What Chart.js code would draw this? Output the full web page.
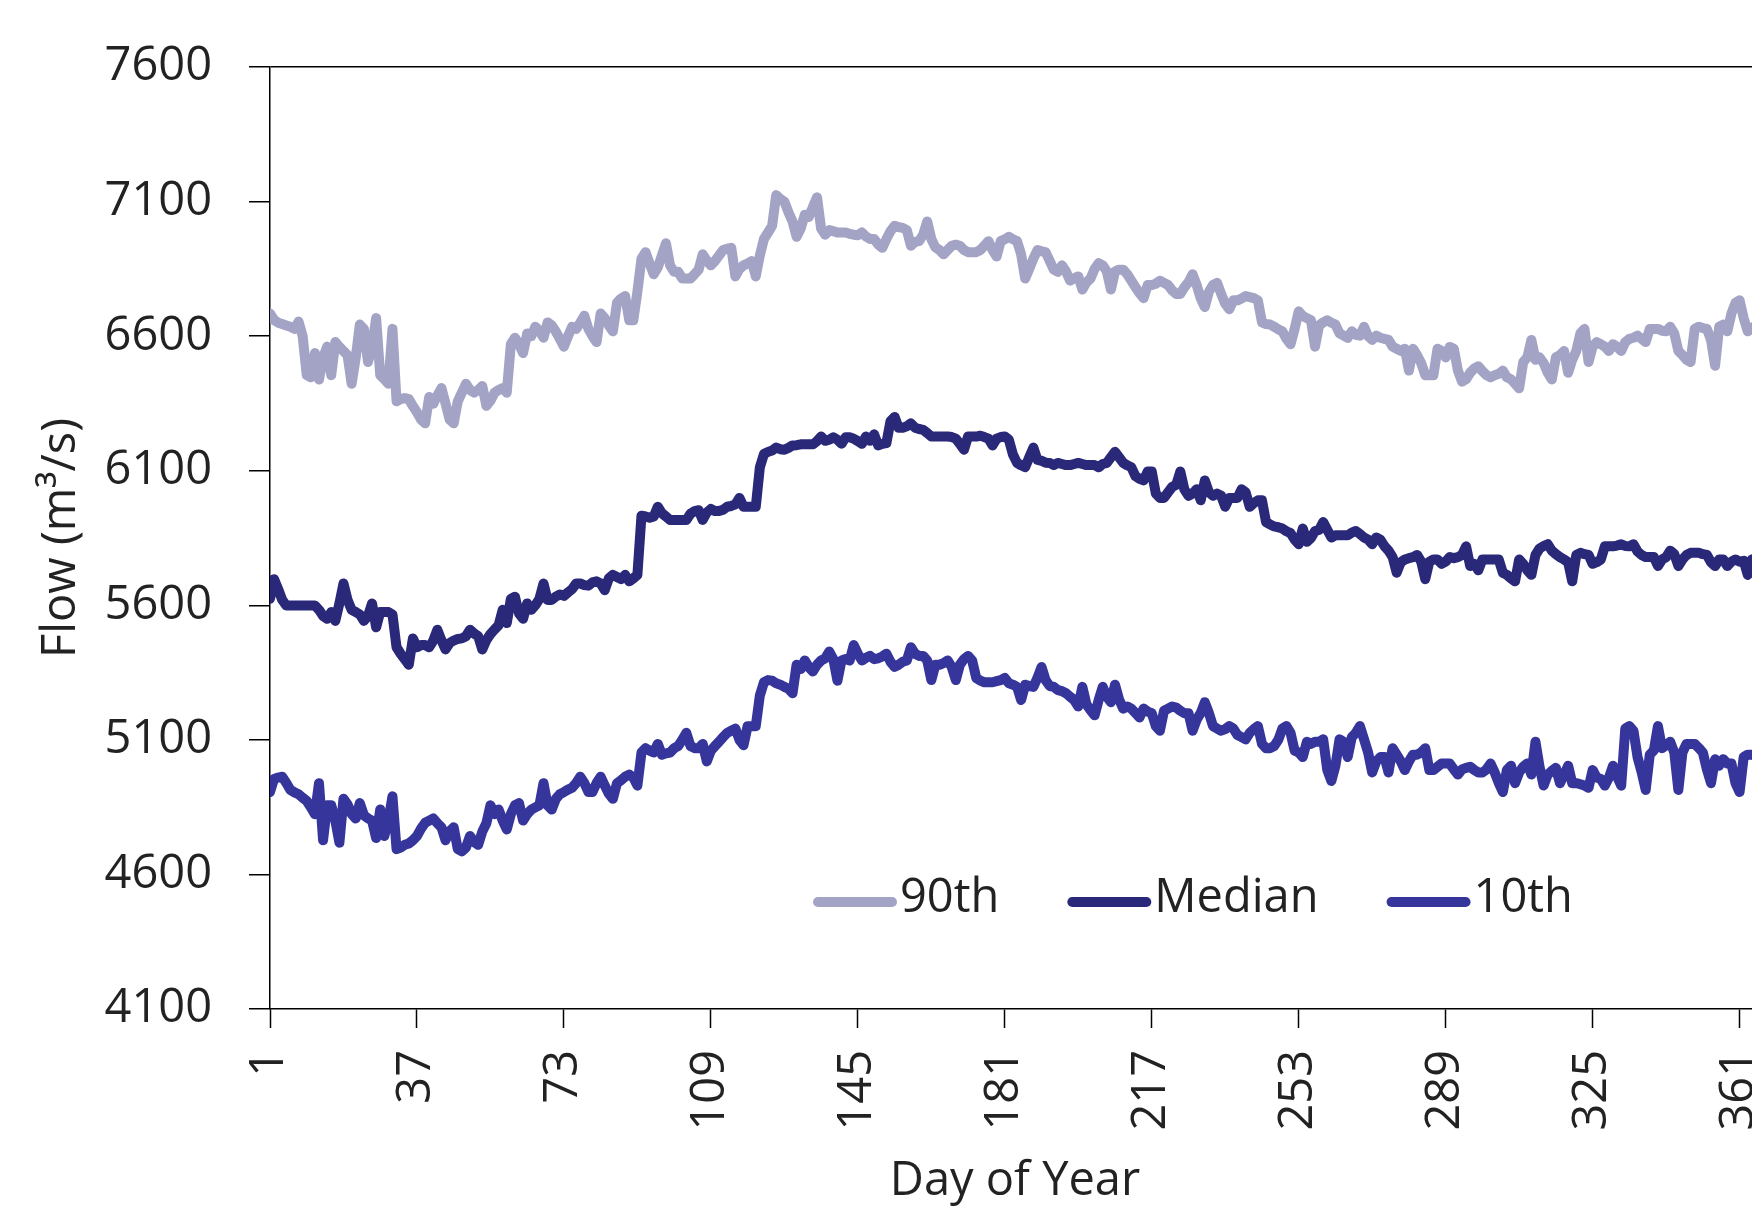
<!DOCTYPE html>
<html>
<head>
<meta charset="utf-8">
<title>Flow by day of year</title>
<script src="https://cdn.jsdelivr.net/npm/chart.js@4.4.1/dist/chart.umd.min.js"></script>
<style>
  html, body { margin: 0; padding: 0; background: #fff; overflow: hidden; }
  canvas { display: block; }
</style>
</head>
<body>
<canvas id="flowChart" width="1800" height="1215"></canvas>
<script>
// tick labels
const dayTicks = [1, 37, 73, 109, 145, 181, 217, 253, 289, 325, 361];
const flowTicks = [4100, 4600, 5100, 5600, 6100, 6600, 7100, 7600];

// daily flow percentiles (m3/s), day 1 .. 365
const flow90th = [
  6684, 6660, 6650, 6645, 6640, 6635, 6627, 6654, 6600, 6455,
  6447, 6537, 6439, 6520, 6561, 6455, 6578, 6560, 6545, 6529,
  6423, 6520, 6643, 6627, 6504, 6560, 6667, 6455, 6440, 6423,
  6627, 6358, 6366, 6370, 6366, 6340, 6317, 6290, 6276, 6374,
  6349, 6380, 6407, 6350, 6290, 6276, 6358, 6390, 6423, 6400,
  6390, 6400, 6415, 6341, 6360, 6390, 6400, 6407, 6390, 6570,
  6594, 6570, 6537, 6610, 6600, 6635, 6620, 6594, 6651, 6640,
  6618, 6590, 6561, 6600, 6635, 6627, 6650, 6676, 6627, 6600,
  6578, 6684, 6667, 6640, 6618, 6724, 6740, 6749, 6659, 6659,
  6765, 6888, 6912, 6870, 6830, 6855, 6900, 6945, 6863, 6839,
  6839, 6814, 6814, 6814, 6830, 6847, 6904, 6880, 6863, 6879,
  6900, 6920, 6925, 6928, 6822, 6850, 6863, 6870, 6879, 6822,
  6900, 6961, 6985, 7010, 7124, 7110, 7100, 7060, 7026, 6969,
  7000, 7051, 7043, 7080, 7116, 7000, 6977, 6994, 6990, 6985,
  6985, 6985, 6980, 6977, 6975, 6985, 6970, 6961, 6961, 6940,
  6928, 6961, 6990, 7010, 7005, 7002, 6994, 6936, 6950, 6953,
  6977, 7026, 6961, 6930, 6920, 6904, 6920, 6936, 6940, 6936,
  6920, 6912, 6912, 6912, 6920, 6936, 6953, 6920, 6896, 6953,
  6960, 6969, 6960, 6953, 6904, 6814, 6850, 6888, 6920, 6915,
  6912, 6880, 6847, 6839, 6863, 6840, 6806, 6815, 6822, 6773,
  6800, 6814, 6850, 6871, 6863, 6840, 6773, 6840, 6847, 6847,
  6830, 6806, 6782, 6760, 6741, 6790, 6790, 6795, 6806, 6798,
  6790, 6770, 6757, 6757, 6782, 6800, 6830, 6790, 6740, 6708,
  6765, 6790, 6798, 6757, 6720, 6700, 6733, 6733, 6740, 6749,
  6745, 6741, 6733, 6651, 6645, 6643, 6635, 6625, 6618, 6590,
  6570, 6627, 6692, 6675, 6667, 6659, 6561, 6640, 6651, 6659,
  6650, 6643, 6610, 6602, 6594, 6618, 6605, 6602, 6635, 6600,
  6586, 6602, 6594, 6590, 6586, 6561, 6553, 6545, 6553, 6472,
  6553, 6529, 6500, 6455, 6455, 6455, 6553, 6545, 6521, 6560,
  6553, 6472, 6431, 6440, 6464, 6480, 6488, 6470, 6455, 6447,
  6455, 6460, 6472, 6447, 6440, 6423, 6406, 6504, 6521, 6586,
  6512, 6521, 6500, 6464, 6439, 6521, 6530, 6545, 6464, 6512,
  6545, 6610, 6627, 6504, 6561, 6578, 6570, 6561, 6545, 6570,
  6560, 6545, 6578, 6590, 6594, 6602, 6590, 6578, 6627, 6627,
  6627, 6620, 6618, 6635, 6610, 6545, 6530, 6512, 6504, 6627,
  6635, 6630, 6627, 6586, 6490, 6635, 6643, 6618, 6684, 6724,
  6733, 6667, 6618, 6630, 6640
];

const flowMedian = [
  5624, 5697, 5660, 5620, 5599, 5599, 5599, 5599, 5599, 5599,
  5599, 5599, 5583, 5560, 5550, 5575, 5542, 5607, 5681, 5620,
  5583, 5575, 5566, 5542, 5560, 5607, 5518, 5575, 5575, 5575,
  5566, 5444, 5420, 5400, 5379, 5477, 5444, 5452, 5452, 5444,
  5469, 5509, 5470, 5436, 5460, 5469, 5475, 5477, 5485, 5509,
  5495, 5485, 5436, 5470, 5493, 5510, 5526, 5583, 5534, 5624,
  5632, 5570, 5550, 5607, 5583, 5600, 5624, 5681, 5620, 5620,
  5632, 5640, 5635, 5648, 5660, 5681, 5681, 5675, 5673, 5685,
  5689, 5681, 5656, 5700, 5713, 5705, 5697, 5713, 5689, 5700,
  5713, 5933, 5930, 5925, 5930, 5966, 5942, 5930, 5917, 5917,
  5917, 5917, 5917, 5940, 5950, 5953, 5917, 5945, 5958, 5950,
  5950, 5955, 5966, 5969, 5975, 5999, 5966, 5966, 5966, 5966,
  6113, 6162, 6170, 6175, 6186, 6180, 6178, 6185, 6194, 6195,
  6198, 6198, 6198, 6198, 6210, 6227, 6211, 6215, 6224, 6215,
  6200, 6224, 6224, 6219, 6210, 6200, 6227, 6211, 6235, 6194,
  6200, 6203, 6284, 6300, 6260, 6260, 6265, 6276, 6260, 6255,
  6252, 6240, 6227, 6227, 6227, 6227, 6227, 6225, 6219, 6200,
  6178, 6227, 6227, 6227, 6230, 6225, 6219, 6194, 6219, 6225,
  6227, 6215, 6160, 6129, 6120, 6113, 6150, 6186, 6140, 6137,
  6130, 6129, 6121, 6129, 6125, 6121, 6121, 6125, 6129, 6125,
  6121, 6121, 6121, 6113, 6125, 6129, 6150, 6170, 6150, 6129,
  6120, 6113, 6080, 6070, 6064, 6097, 6097, 6015, 5999, 5999,
  6020, 6040, 6048, 6097, 6030, 6007, 6015, 6031, 5990, 6064,
  6020, 6007, 6015, 6007, 5966, 5999, 5999, 5999, 6031, 6020,
  5966, 5980, 5990, 5990, 5909, 5900, 5893, 5890, 5885, 5875,
  5868, 5844, 5827, 5885, 5836, 5850, 5876, 5880, 5909, 5880,
  5852, 5860, 5860, 5860, 5860, 5870, 5876, 5865, 5852, 5844,
  5827, 5852, 5844, 5820, 5803, 5779, 5721, 5760, 5770, 5775,
  5779, 5787, 5762, 5697, 5762, 5770, 5770, 5754, 5762, 5779,
  5775, 5779, 5787, 5819, 5746, 5754, 5730, 5770, 5770, 5770,
  5770, 5770, 5721, 5713, 5700, 5689, 5770, 5754, 5730, 5713,
  5787, 5811, 5820, 5827, 5803, 5790, 5779, 5770, 5760, 5689,
  5787, 5795, 5790, 5787, 5754, 5760, 5770, 5819, 5819, 5819,
  5822, 5827, 5820, 5819, 5827, 5800, 5787, 5779, 5779, 5779,
  5746, 5770, 5779, 5803, 5790, 5746, 5770, 5787, 5795, 5795,
  5795, 5790, 5787, 5760, 5746, 5770, 5770, 5746, 5762, 5770,
  5762, 5765, 5713, 5770, 5775
];

const flow10th = [
  4906, 4955, 4960, 4963, 4940, 4914, 4905, 4898, 4885, 4873,
  4850, 4824, 4939, 4727, 4857, 4857, 4800, 4718, 4881, 4860,
  4824, 4808, 4865, 4820, 4808, 4800, 4735, 4841, 4743, 4800,
  4890, 4694, 4700, 4710, 4715, 4727, 4743, 4770, 4792, 4800,
  4808, 4790, 4775, 4727, 4760, 4775, 4694, 4686, 4700, 4743,
  4720, 4710, 4759, 4790, 4857, 4824, 4841, 4800, 4767, 4824,
  4857, 4865, 4800, 4824, 4841, 4849, 4857, 4939, 4857, 4841,
  4880, 4898, 4906, 4915, 4922, 4940, 4963, 4940, 4906, 4906,
  4940, 4963, 4930, 4900, 4881, 4939, 4950, 4963, 4971, 4960,
  4930, 5053, 5069, 5060, 5053, 5085, 5045, 5050, 5053, 5069,
  5077, 5100, 5126, 5077, 5069, 5069, 5085, 5020, 5060, 5077,
  5093, 5110, 5126, 5134, 5142, 5100, 5080, 5151, 5151, 5151,
  5265, 5314, 5322, 5320, 5310, 5305, 5297, 5290, 5273, 5379,
  5363, 5395, 5370, 5354, 5379, 5395, 5403, 5428, 5400, 5320,
  5395, 5400, 5395, 5452, 5420, 5395, 5405, 5412, 5400, 5403,
  5410, 5420, 5390, 5371, 5379, 5390, 5395, 5444, 5420, 5412,
  5412, 5395, 5322, 5379, 5379, 5385, 5395, 5371, 5322, 5379,
  5400, 5412, 5395, 5330, 5320, 5314, 5314, 5314, 5318, 5322,
  5330, 5310, 5305, 5297, 5248, 5305, 5300, 5297, 5330, 5371,
  5322, 5300, 5297, 5285, 5281, 5273, 5260, 5248, 5224, 5297,
  5232, 5210, 5191, 5248, 5297, 5260, 5240, 5305, 5250, 5216,
  5224, 5216, 5200, 5183, 5216, 5205, 5199, 5151, 5134, 5208,
  5216, 5224, 5220, 5208, 5199, 5199, 5134, 5175, 5200, 5240,
  5200, 5151, 5142, 5134, 5140, 5151, 5142, 5118, 5110, 5102,
  5126, 5140, 5151, 5085, 5069, 5069, 5077, 5100, 5142, 5151,
  5126, 5060, 5053, 5036, 5093, 5085, 5093, 5093, 5102, 4988,
  4947, 5004, 5102, 5093, 5036, 5110, 5126, 5151, 5102, 5053,
  4979, 5020, 5036, 5036, 4979, 5069, 5045, 5020, 4988, 5020,
  5045, 5045, 5053, 5069, 4988, 4988, 5000, 5012, 5012, 5012,
  4990, 4971, 4990, 4996, 5000, 4988, 4979, 4979, 4990, 5012,
  4979, 4940, 4906, 4988, 5004, 4939, 4979, 5000, 5012, 4971,
  5093, 5000, 4930, 4971, 4985, 4996, 4939, 4970, 5004, 4939,
  4939, 4935, 4930, 4922, 4988, 4960, 4955, 4930, 4960, 5004,
  4963, 4930, 5142, 5151, 5134, 5036, 4980, 4914, 5045, 5061,
  5151, 5069, 5080, 5093, 5053, 4914, 5053, 5085, 5085, 5085,
  5070, 5053, 4990, 4939, 5028, 5004, 5028, 5012, 5012, 4939,
  4906, 5036, 5045, 5045, 5040
];

// day numbers for the x axis
const days = [];
for (let d = 1; d <= flowMedian.length; d++) days.push(d);

const textFont = { family: '"Open Sans", "Noto Sans", sans-serif', size: 47 };
const textColor = '#222';
const lineWidth = 10;

// legend drawn inside the plot, line sample right next to its text
const insideLegend = {
  id: 'insideLegend',
  afterDatasetsDraw(chart) {
    const ctx = chart.ctx;
    const area = chart.chartArea;
    let x = area.left + 548;
    const y = area.top + 835;
    ctx.save();
    ctx.font = textFont.size + 'px ' + textFont.family;
    ctx.textBaseline = 'middle';
    ctx.lineCap = 'round';
    ctx.lineWidth = lineWidth;
    chart.data.datasets.forEach(function (ds) {
      ctx.strokeStyle = ds.borderColor;
      ctx.beginPath();
      ctx.moveTo(x, y);
      ctx.lineTo(x + 74, y);
      ctx.stroke();
      ctx.fillStyle = textColor;
      ctx.fillText(ds.label, x + 82, y - 3);
      x += 82 + ctx.measureText(ds.label).width + 73;
    });
    ctx.restore();
  }
};

const ctx = document.getElementById('flowChart');
new Chart(ctx, {
  type: 'line',
  data: {
    labels: days,
    datasets: [
      { label: '90th', data: flow90th, borderColor: '#A3A4C5', backgroundColor: '#A3A4C5', borderWidth: lineWidth },
      { label: 'Median', data: flowMedian, borderColor: '#2A2878', backgroundColor: '#2A2878', borderWidth: lineWidth },
      { label: '10th', data: flow10th, borderColor: '#35359B', backgroundColor: '#35359B', borderWidth: lineWidth }
    ]
  },
  options: {
    responsive: false,
    animation: false,
    devicePixelRatio: 1,
    layout: {
      padding: { left: 0, top: 67, right: 40, bottom: 0 }
    },
    elements: {
      point: { radius: 0 },
      line: { borderJoinStyle: 'round', borderCapStyle: 'round', tension: 0 }
    },
    plugins: {
      legend: { display: false },
      tooltip: { enabled: false }
    },
    scales: {
      x: {
        type: 'linear',
        min: 1,
        max: 366,
        afterBuildTicks: function (axis) {
          axis.ticks = dayTicks.map(function (v) { return { value: v }; });
        },
        afterFit: function (axis) {
          axis.height = 206;
          axis.paddingLeft = 0;
          axis.paddingRight = 0;
        },
        ticks: {
          autoSkip: false,
          minRotation: 90,
          maxRotation: 90,
          padding: 22,
          color: textColor,
          font: textFont
        },
        grid: {
          drawOnChartArea: false,
          tickLength: 19,
          tickColor: '#000',
          tickWidth: 1.5
        },
        border: { color: '#000', width: 1.5 },
        title: {
          display: true,
          text: 'Day of Year',
          color: textColor,
          font: textFont,
          padding: { top: 25, bottom: 5 }
        }
      },
      y: {
        min: 4100,
        max: 7600,
        afterBuildTicks: function (axis) {
          axis.ticks = flowTicks.map(function (v) { return { value: v }; });
        },
        afterFit: function (axis) {
          axis.width = 270;
        },
        ticks: {
          padding: 37,
          color: textColor,
          font: textFont,
          callback: function (v) { return String(v); }
        },
        grid: {
          color: function (c) {
            return c.tick && c.tick.value === 7600 ? '#000' : 'rgba(0,0,0,0)';
          },
          lineWidth: 1.5,
          tickLength: 21,
          tickColor: '#000',
          tickWidth: 1.5
        },
        border: { color: '#000', width: 1.5 },
        title: {
          display: true,
          text: 'Flow (m³/s)',
          color: textColor,
          font: textFont,
          padding: { top: 33, bottom: 16 }
        }
      }
    }
  },
  plugins: [insideLegend]
});
</script>
</body>
</html>
